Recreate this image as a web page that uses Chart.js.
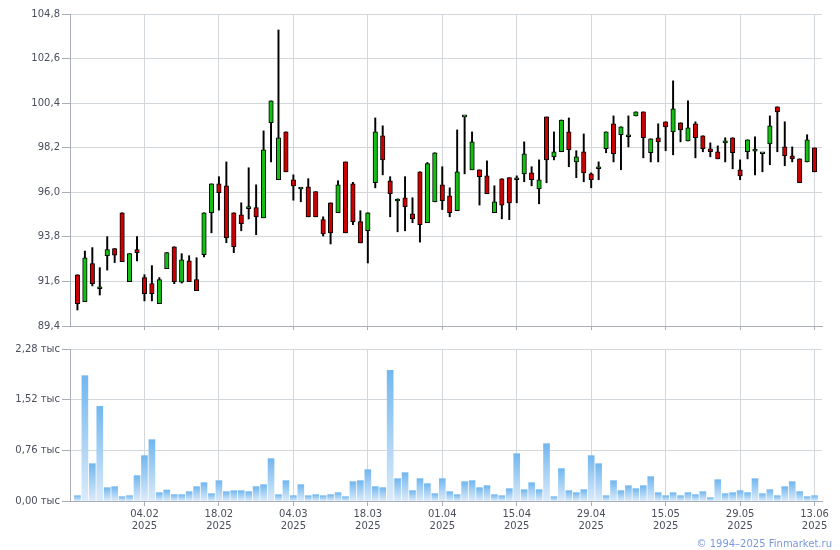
<!DOCTYPE html>
<html><head><meta charset="utf-8">
<script src="https://cdn.jsdelivr.net/npm/chart.js@4/dist/chart.umd.min.js"></script>
<style>
html,body{margin:0;padding:0;background:#fff;}
#wrap{position:relative;width:840px;height:550px;overflow:hidden;background:#fff;}
#c1{position:absolute;left:0;top:0;}
#c2{position:absolute;left:0;top:340px;}
#copy{position:absolute;right:8px;top:538px;font:10px "DejaVu Sans",Verdana,sans-serif;color:#7a98e0;white-space:nowrap;}
</style></head><body>
<div id="wrap">
<canvas id="c1" width="840" height="340"></canvas>
<canvas id="c2" width="840" height="210"></canvas>
<div id="copy">© 1994–2025 Finmarket.ru</div>
</div>
<script>
const year = '2025';
const dates = [
 '22.01','23.01','24.01','27.01','28.01','29.01','30.01','31.01','03.02','04.02',
 '05.02','06.02','07.02','10.02','11.02','12.02','13.02','14.02','17.02','18.02',
 '19.02','20.02','21.02','24.02','25.02','26.02','27.02','28.02','03.03','04.03',
 '05.03','06.03','07.03','10.03','11.03','12.03','13.03','14.03','17.03','18.03',
 '19.03','20.03','21.03','24.03','25.03','26.03','27.03','28.03','31.03','01.04',
 '02.04','03.04','04.04','07.04','08.04','09.04','10.04','11.04','14.04','15.04',
 '16.04','17.04','18.04','21.04','22.04','23.04','24.04','25.04','28.04','29.04',
 '30.04','02.05','05.05','06.05','07.05','08.05','12.05','13.05','14.05','15.05',
 '16.05','19.05','20.05','21.05','22.05','23.05','26.05','27.05','28.05','29.05',
 '30.05','02.06','03.06','04.06','05.06','06.06','09.06','10.06','11.06','13.06'
];
const opens = [
 91.93,90.60,92.48,91.24,92.87,93.22,94.99,91.59,93.17,91.79,
 91.49,90.50,92.23,93.31,91.56,92.62,91.69,92.92,94.99,96.42,
 96.32,94.99,94.89,95.19,95.24,94.74,99.43,96.62,98.98,96.62,
 96.16,96.27,96.03,94.65,95.48,94.99,97.50,96.42,94.55,94.10,
 96.47,98.79,96.57,95.57,95.73,94.94,97.01,94.50,95.53,96.37,
 95.83,95.09,99.72,97.11,97.11,96.81,94.99,96.67,96.72,96.62,
 96.91,96.96,96.17,99.72,97.75,98.00,98.98,97.50,98.00,96.91,
 97.16,98.15,99.38,98.84,98.74,99.77,99.97,97.95,98.69,99.48,
 98.98,99.43,98.54,99.38,98.79,98.15,98.00,98.44,98.69,97.11,
 98.00,98.03,97.90,98.39,100.22,98.24,97.80,97.65,97.50,98.19
];
const highs = [
 91.93,93.10,93.27,92.28,93.81,93.22,94.99,92.97,93.81,91.93,
 92.38,91.79,93.02,93.31,92.97,92.87,92.77,94.99,96.42,96.77,
 97.50,94.99,95.48,97.21,96.37,99.03,100.51,104.01,98.98,96.86,
 96.16,96.67,96.03,94.79,95.48,96.57,97.50,96.49,95.09,94.99,
 99.67,99.28,96.77,95.68,96.77,95.73,97.01,97.47,97.95,97.26,
 96.22,99.08,99.72,98.98,97.11,97.55,96.32,96.67,96.72,96.81,
 98.49,97.26,97.60,99.72,98.98,99.57,99.67,98.05,98.88,96.96,
 97.50,98.98,99.77,99.23,99.77,99.97,99.97,98.64,99.38,99.48,
 101.50,99.43,100.51,99.48,98.79,98.44,98.29,98.69,98.69,97.60,
 98.59,98.74,97.90,99.77,100.22,99.48,98.24,97.65,98.84,98.19
];
const lows = [
 90.19,90.60,91.38,90.93,92.16,92.53,92.58,91.59,92.61,90.64,
 90.64,90.50,92.23,91.49,91.52,91.59,91.15,92.81,94.00,95.12,
 93.51,93.02,94.10,94.68,93.91,94.74,97.50,96.62,97.01,95.61,
 95.53,94.79,94.79,93.84,93.45,94.99,94.00,94.40,93.50,92.51,
 96.22,96.86,94.79,94.05,94.10,94.50,93.54,94.50,95.53,95.15,
 94.79,95.09,96.91,97.11,95.37,95.93,94.99,94.69,94.65,95.48,
 96.52,96.32,95.43,96.47,97.60,98.00,97.26,96.72,96.52,96.22,
 96.62,97.95,97.50,97.11,98.24,99.77,97.70,97.50,97.50,98.05,
 97.85,98.49,98.54,97.70,98.00,97.75,97.65,97.50,97.16,96.62,
 97.65,96.86,97.01,97.36,98.00,97.31,97.50,96.47,97.50,97.01
];
const closes = [
 90.50,92.77,91.49,91.24,93.17,92.90,92.58,92.97,93.02,91.00,
 91.00,91.69,93.02,91.59,92.67,91.59,91.15,94.99,96.42,95.98,
 93.76,93.31,94.45,95.29,94.79,98.10,100.51,98.69,97.01,96.32,
 96.16,94.79,94.79,93.94,94.00,96.37,94.00,94.55,93.50,94.99,
 98.98,97.60,95.93,95.57,95.29,94.69,94.40,97.42,97.95,95.58,
 94.99,97.01,99.72,98.49,96.77,95.93,95.53,95.37,95.48,96.62,
 97.90,96.62,96.62,97.60,98.00,99.57,98.10,97.75,96.96,96.62,
 97.16,98.98,97.90,99.23,98.84,99.97,98.69,98.64,98.49,99.23,
 100.12,99.08,99.18,98.69,98.15,98.00,97.65,98.54,97.95,96.81,
 98.59,98.03,97.90,99.28,99.97,97.80,97.65,96.47,98.59,97.01
];
// volume, thousands
const volumes = [
 0.08,1.88,0.56,1.42,0.20,0.215,0.065,0.08,0.38,0.68,
 0.92,0.125,0.165,0.095,0.095,0.14,0.215,0.275,0.11,0.305,
 0.14,0.155,0.155,0.14,0.215,0.245,0.636,0.095,0.305,0.08,
 0.245,0.08,0.095,0.08,0.095,0.125,0.065,0.29,0.305,0.47,
 0.215,0.20,1.96,0.335,0.425,0.155,0.335,0.26,0.11,0.335,
 0.14,0.095,0.29,0.305,0.20,0.23,0.095,0.08,0.185,0.71,
 0.17,0.275,0.17,0.86,0.065,0.486,0.155,0.125,0.17,0.68,
 0.56,0.08,0.305,0.155,0.23,0.185,0.23,0.365,0.125,0.08,
 0.125,0.08,0.125,0.095,0.14,0.05,0.32,0.11,0.125,0.155,
 0.125,0.335,0.11,0.17,0.08,0.215,0.29,0.14,0.065,0.08
];
const priceTicks = [89.4, 91.6, 93.8, 96.0, 98.2, 100.4, 102.6, 104.8];
const volumeTicks = [0, 0.76, 1.52, 2.28];
const dateTickIndex = [9, 19, 29, 39, 49, 59, 69, 79, 89, 99];

const gridColor = '#d2d7dc', axisColor = '#a9adb7', textColor = '#4a4f5c';
Chart.defaults.font.family = '"DejaVu Sans", Verdana, sans-serif';
Chart.defaults.font.size = 10;
Chart.defaults.color = textColor;

const idx = dates.map((d, i) => i);
const X_MIN = -1, X_MAX = dates.length;
const setTicks = arr => s => { s.ticks = arr.map(v => ({ value: v })); };
const fmt = (v, d) => Number(v).toFixed(d).replace('.', ',');

new Chart(document.getElementById('c1'), {
  type: 'bar',
  data: { datasets: [
    { label: 'body', order: 0, grouped: false,
      data: idx.map(i => ({ x: i, y: [opens[i], closes[i]] })),
      backgroundColor: idx.map(i => closes[i] >= opens[i] ? '#12bf12' : '#cc0000'),
      borderColor: '#000', borderWidth: 1, borderSkipped: false,
      barThickness: 4.5, minBarLength: 2 },
    { label: 'wick', order: 1, grouped: false,
      data: idx.map(i => ({ x: i, y: [lows[i], highs[i]] })),
      backgroundColor: '#000', borderWidth: 0, barThickness: 1.3 }
  ]},
  options: {
    responsive: false, animation: false, events: [],
    layout: { padding: { top: 14, right: 18, left: 0, bottom: 0 } },
    plugins: { legend: { display: false }, tooltip: { enabled: false } },
    scales: {
      x: { type: 'linear', min: X_MIN, max: X_MAX, offset: false, afterBuildTicks: setTicks(dateTickIndex),
           ticks: { display: false },
           grid: { offset: false, color: gridColor, tickLength: 4, tickColor: axisColor },
           border: { color: axisColor }, afterFit: s => { s.height = 14; } },
      y: { min: priceTicks[0], max: priceTicks[priceTicks.length - 1], afterBuildTicks: setTicks(priceTicks),
           ticks: { callback: v => fmt(v, 1), padding: 2 },
           grid: { color: gridColor, tickLength: 8, tickColor: axisColor },
           border: { color: axisColor }, afterFit: s => { s.width = 70; } }
    }
  }
});

const volGrad = c => {
  const ch = c.chart;
  if (!ch.chartArea || c.type !== 'data') return '#9ccbf3';
  const ys = ch.scales.y;
  const top = ys.getPixelForValue(c.parsed.y);
  const bot = ys.getPixelForValue(0);
  if (!isFinite(top) || bot - top < 1) return '#9ccbf3';
  const g = ch.ctx.createLinearGradient(0, top, 0, bot);
  g.addColorStop(0, '#72b7ef');
  g.addColorStop(1, '#dcebfa');
  return g;
};

new Chart(document.getElementById('c2'), {
  type: 'bar',
  data: { datasets: [
    { label: 'volume', grouped: false,
      data: idx.map(i => ({ x: i, y: volumes[i] })),
      backgroundColor: volGrad, borderWidth: 0, barThickness: 6 }
  ]},
  options: {
    responsive: false, animation: false, events: [],
    layout: { padding: { top: 9, right: 18, left: 0, bottom: 0 } },
    plugins: { legend: { display: false }, tooltip: { enabled: false } },
    scales: {
      x: { type: 'linear', min: X_MIN, max: X_MAX, offset: false, afterBuildTicks: setTicks(dateTickIndex),
           ticks: { callback: v => [dates[v], year], autoSkip: false, maxRotation: 0, padding: 2 },
           grid: { offset: false, color: gridColor, tickLength: 5, tickColor: axisColor },
           border: { color: axisColor }, afterFit: s => { s.height = 49; } },
      y: { min: volumeTicks[0], max: volumeTicks[volumeTicks.length - 1], afterBuildTicks: setTicks(volumeTicks),
           ticks: { callback: v => fmt(v, 2) + ' тыс', padding: 2 },
           grid: { color: gridColor, tickLength: 8, tickColor: axisColor },
           border: { color: axisColor }, afterFit: s => { s.width = 70; } }
    }
  }
});
</script>
</body></html>
